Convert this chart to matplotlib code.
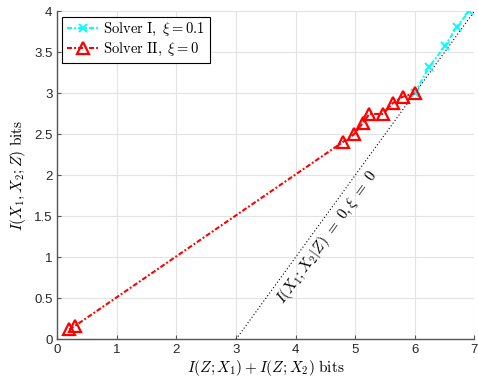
import numpy as np
import matplotlib
matplotlib.use("Agg")
import matplotlib.pyplot as plt

# Data
solver1_x = [6.00, 6.24, 6.51, 6.71, 6.91]
solver1_y = [3.00, 3.32, 3.58, 3.81, 4.00]
solver2_x = [0.20, 0.29, 4.80, 4.98, 5.13, 5.24, 5.47, 5.63, 5.80, 6.00]
solver2_y = [0.12, 0.16, 2.41, 2.50, 2.64, 2.75, 2.75, 2.88, 2.96, 3.00]
bound_x = [3, 7]
bound_y = [0, 4]
xticks = [0, 1, 2, 3, 4, 5, 6, 7]
yticks = [0, 0.5, 1, 1.5, 2, 2.5, 3, 3.5, 4]

plt.rcParams['mathtext.fontset'] = 'cm'
plt.rcParams['font.family'] = ['Liberation Sans', 'DejaVu Sans']

fig = plt.figure(figsize=(4.78, 3.87), dpi=100)
ax = fig.add_axes([0.12, 0.1233, 0.872, 0.847])

dashdot = (0, (2.4, 1.0, 0.9, 1.0))
ax.plot(bound_x, bound_y, linestyle=(0, (1, 2)), color='black', linewidth=0.8, zorder=2)
ax.plot(solver1_x, solver1_y, linestyle=dashdot, color='cyan', marker='x', markersize=6,
        markeredgewidth=1.4, linewidth=1.5, label=r'$\mathrm{Solver\ I},\ \xi = 0.1$', zorder=3)
ax.plot(solver2_x, solver2_y, linestyle=dashdot, color='red', marker='^', markersize=8,
        markerfacecolor='none', markeredgewidth=1.6, linewidth=1.5,
        label=r'$\mathrm{Solver\ II},\ \xi = 0$', zorder=4)

ax.set_xlim(0, 7)
ax.set_ylim(0, 4)
ax.set_xticks(xticks)
ax.set_yticks(yticks)
ax.set_xticklabels([f'{t:g}' for t in xticks])
ax.set_yticklabels([f'{t:g}' for t in yticks])
ax.grid(True, color='#e3e3e3', linewidth=0.8)
ax.set_axisbelow(True)
for s in ['top', 'right']:
    ax.spines[s].set_visible(False)
for s in ['left', 'bottom']:
    ax.spines[s].set_color('#555555')
    ax.spines[s].set_linewidth(1.0)
ax.tick_params(direction='in', length=3, colors='#555555', labelcolor='#262626', labelsize=9.5)

ax.set_xlabel(r'$I(Z;X_1)+I(Z;X_2)\ \mathrm{bits}$', fontsize=11, labelpad=1)
ax.set_ylabel(r'$I(X_1,X_2;Z)\ \mathrm{bits}$', fontsize=11, labelpad=4)

# rotated annotation along dotted line
p0 = ax.transData.transform((3, 0))
p1 = ax.transData.transform((7, 4))
ang = np.degrees(np.arctan2(p1[1] - p0[1], p1[0] - p0[0]))
ax.text(4.53, 1.25, r'$I(X_1;X_2|Z)\ =\ 0,\xi\ =\ 0$', rotation=ang, rotation_mode='anchor',
        ha='center', va='center', fontsize=11)

leg = ax.legend(loc='upper left', fontsize=10.5, frameon=True, fancybox=False,
                edgecolor='black', framealpha=1, borderaxespad=0.35,
                handlelength=2.2, handletextpad=0.3, borderpad=0.3, labelspacing=0.2)
leg.get_frame().set_linewidth(0.8)

fig.savefig('out.png', dpi=100)
